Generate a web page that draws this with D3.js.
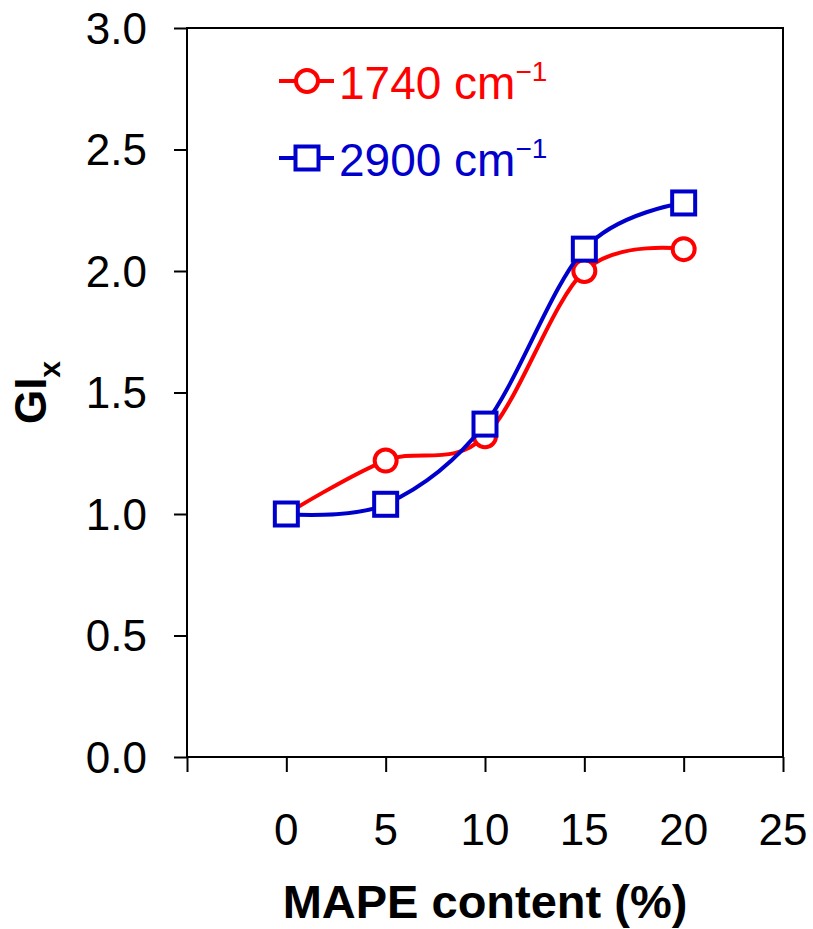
<!DOCTYPE html>
<html>
<head>
<meta charset="utf-8">
<script src="https://cdn.jsdelivr.net/npm/d3@7"></script>
<style>
  body { margin: 0; background: white; }
  text { font-family: "Liberation Sans", Arial, sans-serif; }
</style>
</head>
<body>
<div id="viz"></div>
<script>
// values
const mape = [0, 5, 10, 15, 20];
const gi1740 = [1.0, 1.22, 1.32, 2.0, 2.09];
const gi2900 = [1.0, 1.04, 1.37, 2.09, 2.28];
const xTicks = [-5, 0, 5, 10, 15, 20, 25];
const xLabels = [0, 5, 10, 15, 20, 25];
const yTicks = [0, 0.5, 1.0, 1.5, 2.0, 2.5, 3.0];
const seriesNames = ["1740", "2900"];

const W = 813, H = 929;
const margin = {top: 28, right: 30, bottom: 172, left: 187};
const width = W - margin.left - margin.right,
      height = H - margin.top - margin.bottom;

const svg = d3.select("#viz").append("svg")
    .attr("width", W)
    .attr("height", H);

const x = d3.scaleLinear().domain([-5, 25]).range([margin.left, margin.left + width]);
const y = d3.scaleLinear().domain([0, 3]).range([margin.top + height, margin.top]);

// frame
svg.append("rect")
    .attr("x", x(-5)).attr("y", y(3))
    .attr("width", x(25) - x(-5)).attr("height", y(0) - y(3))
    .attr("fill", "none").attr("stroke", "black").attr("stroke-width", 2);

// x axis ticks
const xAxis = svg.append("g")
    .attr("transform", `translate(0,${y(0)})`)
    .call(d3.axisBottom(x).tickValues(xTicks).tickSize(15).tickFormat(""));
xAxis.select(".domain").remove();
xAxis.selectAll("line").attr("stroke-width", 2);

svg.selectAll(".xlab").data(xLabels).join("text")
    .attr("x", d => x(d)).attr("y", 845)
    .attr("text-anchor", "middle")
    .attr("font-size", 44)
    .text(d => d);

// y axis ticks
const yAxis = svg.append("g")
    .attr("transform", `translate(${x(-5)},0)`)
    .call(d3.axisLeft(y).tickValues(yTicks).tickSize(13).tickFormat(""));
yAxis.select(".domain").remove();
yAxis.selectAll("line").attr("stroke-width", 2);

svg.selectAll(".ylab").data(yTicks).join("text")
    .attr("x", 147).attr("y", d => y(d))
    .attr("dy", "0.36em")
    .attr("text-anchor", "end")
    .attr("font-size", 44)
    .text(d => d3.format(".1f")(d));

// axis titles
svg.append("text")
    .attr("x", x(10)).attr("y", 918)
    .attr("text-anchor", "middle")
    .attr("font-size", 47).attr("font-weight", "bold")
    .text("MAPE content (%)");

const yt = svg.append("text")
    .attr("transform", `translate(46,${(y(0) + y(3)) / 2}) rotate(-90)`)
    .attr("text-anchor", "middle")
    .attr("font-size", 44).attr("font-weight", "bold");
yt.append("tspan").text("GI");
yt.append("tspan").attr("dy", 14).attr("font-size", 30).text("x");

// lines
const line = d3.line()
    .curve(d3.curveCatmullRom.alpha(0))
    .x(d => x(d[0]))
    .y(d => y(d[1]));

const series = [
  {name: seriesNames[0], vals: gi1740, color: "#ff0000", shape: "circle"},
  {name: seriesNames[1], vals: gi2900, color: "#0000cc", shape: "square"}
];

function marker(g, shape, color) {
  if (shape === "circle") {
    g.append("circle").attr("r", 11)
      .attr("fill", "white").attr("stroke", color).attr("stroke-width", 4);
  } else {
    g.append("rect").attr("x", -11.5).attr("y", -11.5)
      .attr("width", 23).attr("height", 23)
      .attr("fill", "white").attr("stroke", color).attr("stroke-width", 4);
  }
}

series.forEach(s => {
  const pts = mape.map((m, i) => [m, s.vals[i]]);
  svg.append("path")
      .datum(pts)
      .attr("fill", "none")
      .attr("stroke", s.color)
      .attr("stroke-width", 4)
      .attr("d", line);
  pts.forEach(p => {
    const g = svg.append("g").attr("transform", `translate(${x(p[0])},${y(p[1])})`);
    marker(g, s.shape, s.color);
  });
});

// legend
const legY = [81, 158];
series.forEach((s, i) => {
  const g = svg.append("g").attr("transform", `translate(307,${legY[i]})`);
  g.append("line").attr("x1", -28).attr("x2", 27)
    .attr("stroke", s.color).attr("stroke-width", 4);
  marker(g, s.shape, s.color);
  const t = svg.append("text")
      .attr("x", 339).attr("y", legY[i] + 18)
      .attr("font-size", 46)
      .attr("fill", s.color);
  t.append("tspan").text(s.name + " cm");
  t.append("tspan").attr("dy", -18).attr("font-size", 28).text("\u22121");
});
</script>
</body>
</html>
